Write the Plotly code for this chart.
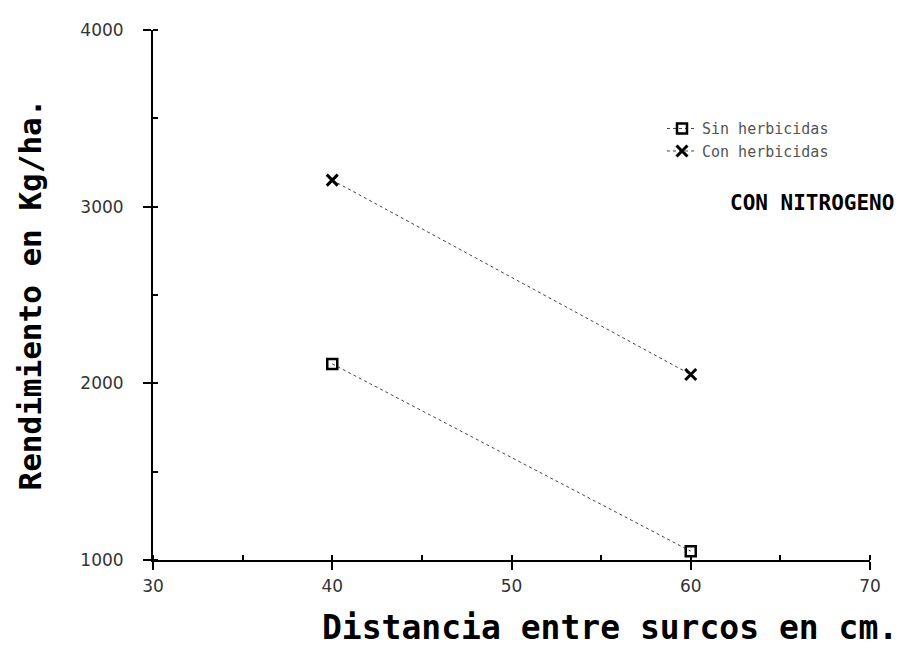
import plotly.graph_objects as go

distancia = [40, 60]
sin_herbicidas = [2110, 1050]
con_herbicidas = [3150, 2050]
x_ticks = [30, 40, 50, 60, 70]
y_ticks = [1000, 2000, 3000, 4000]

# plot area in screen pixels (page has an 8px body offset)
L, R, T, B = 153, 870, 25, 560


def px(x, y):
    return (x - L) / (R - L), (B - y) / (B - T)


fig = go.Figure()
fig.add_trace(go.Scatter(
    x=distancia, y=sin_herbicidas, name="Sin herbicidas",
    mode="lines+markers",
    line=dict(color="#444", width=1, dash="dot"),
    marker=dict(symbol="square-open", size=10, color="black", line=dict(width=2.5)),
))
fig.add_trace(go.Scatter(
    x=distancia, y=con_herbicidas, name="Con herbicidas",
    mode="lines+markers",
    line=dict(color="#444", width=1, dash="dot"),
    marker=dict(symbol="x-thin-open", size=11, color="black", line=dict(width=3, color="black")),
))

axis_common = dict(
    showline=True, linecolor="black", linewidth=2,
    ticks="outside", tickcolor="black", ticklen=8, tickwidth=2,
    showgrid=False, zeroline=False,
    tickfont=dict(family="DejaVu Sans", size=17, color="#333"),
    minor=dict(ticks="inside", ticklen=5, tickcolor="black", tickwidth=1.5),
)

fig.update_xaxes(range=[30, 70], tickvals=x_ticks, ticklabelstandoff=2,
                 minor_dtick=5, **axis_common)
fig.update_yaxes(range=[1000, 4000], tickvals=y_ticks, ticklabelstandoff=16,
                 minor_dtick=500, **axis_common)

W, H = 902, 640
fig.update_layout(
    width=W, height=H,
    margin=dict(l=L - 8, r=W - (R - 8), t=T - 8, b=H - (B - 8)),
    plot_bgcolor="white", paper_bgcolor="white",
    showlegend=True,
    legend=dict(x=px(662, 0)[0], xanchor="left", y=px(0, 108)[1], yanchor="top",
                bgcolor="rgba(0,0,0,0)",
                font=dict(family="DejaVu Sans Mono", size=15, color="#555"),
                tracegroupgap=0, itemwidth=30),
    annotations=[
        dict(text="<b>Distancia entre surcos en cm.</b>", xref="paper", yref="paper",
             x=px(610, 0)[0], y=px(0, 628)[1], xanchor="center", yanchor="middle",
             showarrow=False, font=dict(family="DejaVu Sans Mono", size=33, color="black")),
        dict(text="<b>Rendimiento en Kg/ha.</b>", xref="paper", yref="paper",
             x=px(30, 0)[0], y=px(0, 292)[1], xanchor="center", yanchor="middle",
             textangle=-90, showarrow=False,
             font=dict(family="DejaVu Sans Mono", size=31, color="black")),
        dict(text="<b>CON NITROGENO</b>", xref="paper", yref="paper",
             x=px(812, 0)[0], y=px(0, 200)[1], xanchor="center", yanchor="middle",
             showarrow=False, font=dict(family="DejaVu Sans Mono", size=21, color="black")),
    ],
)

fig.write_html("out.html")
